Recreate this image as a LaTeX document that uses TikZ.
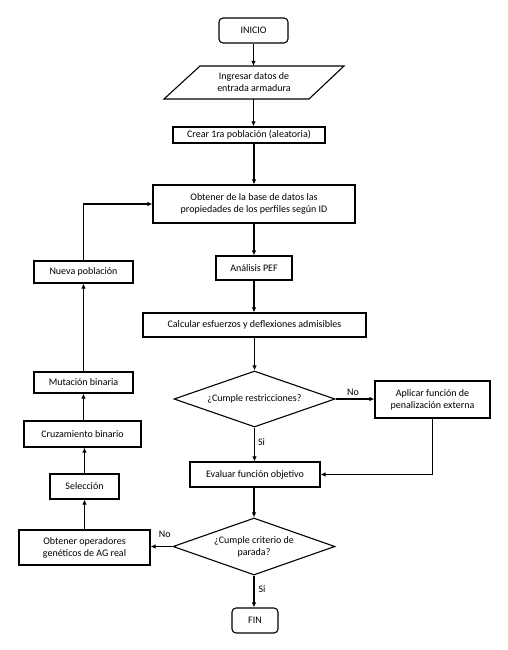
\documentclass[tikz,border=0pt]{standalone}
\usepackage{fontspec}
\setmainfont{Carlito}
\usetikzlibrary{shapes.geometric,arrows.meta}
\begin{document}
\begin{tikzpicture}[x=1pt,y=-1pt,
  box/.style={draw,line width=1.1pt,inner sep=1pt,align=center,font=\fontsize{10}{12}\selectfont},
  term/.style={box,rounded corners=4pt},
  dec/.style={draw,line width=1.1pt,diamond,aspect=2.9,inner sep=0pt,align=center,font=\fontsize{10}{12}\selectfont},
  arr/.style={line width=1.1pt,-{Latex[length=5pt,width=4.5pt]}},
  lbl/.style={font=\fontsize{10}{12}\selectfont,inner sep=0pt}]
\useasboundingbox[fill=white] (0,0) rectangle (508,650);
\node[term,minimum width=69pt,minimum height=25pt] (inicio) at (253.5,30.5) {INICIO};
\node[font=\fontsize{10}{12}\selectfont,align=center,inner sep=0pt] (entrada) at (254,82.5) {Ingresar datos de\\entrada armadura};
\draw[line width=1.1pt,line join=miter] (200,66) coordinate (p1) -- (344,66) coordinate (p2) -- (309,99) coordinate (p3) -- (164,99) coordinate (p4) -- cycle;
\node[box,minimum width=152pt,minimum height=16pt] (crear) at (249,135) {Crear 1ra población (aleatoria)};
\node[box,minimum width=202pt,minimum height=38pt] (obtener) at (254,204) {Obtener de la base de datos las\\propiedades de los perfiles según ID};
\node[box,minimum width=76pt,minimum height=24pt] (analisis) at (254,268) {Análisis PEF};
\node[box,minimum width=223pt,minimum height=24pt] (calcular) at (254.5,325) {Calcular esfuerzos y deflexiones admisibles};
\node[dec,minimum width=161pt,minimum height=56pt] (rest) at (254.5,399) {¿Cumple restricciones?};
\node[box,minimum width=115pt,minimum height=37pt] (aplicar) at (432.5,399.5) {Aplicar función de\\penalización externa};
\node[box,minimum width=130pt,minimum height=25pt] (evaluar) at (255,474.5) {Evaluar función objetivo};
\node[dec,minimum width=162pt,minimum height=57pt] (crit) at (254,546.5) {¿Cumple criterio de\\parada?};
\node[term,minimum width=46pt,minimum height=25pt] (fin) at (255,620.5) {FIN};
\node[box,minimum width=131pt,minimum height=35pt] (obtop) at (84.5,547.5) {Obtener operadores\\genéticos de AG real};
\node[box,minimum width=69pt,minimum height=25pt] (selec) at (84.5,486.5) {Selección};
\node[box,minimum width=117pt,minimum height=26pt] (cruz) at (82.5,434) {Cruzamiento binario};
\node[box,minimum width=99pt,minimum height=21pt] (mut) at (83.5,382.5) {Mutación binaria};
\node[box,minimum width=99pt,minimum height=22pt] (nueva) at (83.5,272) {Nueva población};
% connectors
\draw[arr] (inicio.south) -- (inicio.south |- p1);
\draw[arr] (inicio.south |- p4) -- (crear.north -| inicio.south);
\draw[arr] (crear.south -| obtener) -- (obtener.north);
\draw[arr] (obtener.south) -- (analisis.north);
\draw[arr] (analisis.south) -- (analisis.south |- calcular.north);
\draw[arr] (calcular.south -| rest.north) -- (rest.north);
\draw[arr] (rest.east) -- (rest.east -| aplicar.west) node[lbl,pos=0.45,above=3pt] (no1) {No};
\draw[arr] (aplicar.south) |- (evaluar.east);
\draw[arr] (rest.south) -- (rest.south |- evaluar.north) node[lbl,pos=0.42,right=3pt] (si1) {Si};
\draw[arr] (evaluar.south -| crit.north) -- (crit.north);
\draw[arr] (crit.west) -- (crit.west -| obtop.east) node[lbl,pos=0.35,above=8pt] (no2) {No};
\draw[arr] (crit.south) -- (crit.south |- fin.north) node[lbl,pos=0.42,right=4pt] (si2) {Si};
\draw[arr] (obtop.north -| selec) -- (selec.south);
\draw[arr] (selec.north) -- (selec.north |- cruz.south);
\draw[arr] (cruz.north -| mut) -- (mut.south);
\draw[arr] (mut.north) -- (mut.north |- nueva.south);
\draw[arr] (nueva.north) |- (obtener.west);
\end{tikzpicture}
\end{document}
